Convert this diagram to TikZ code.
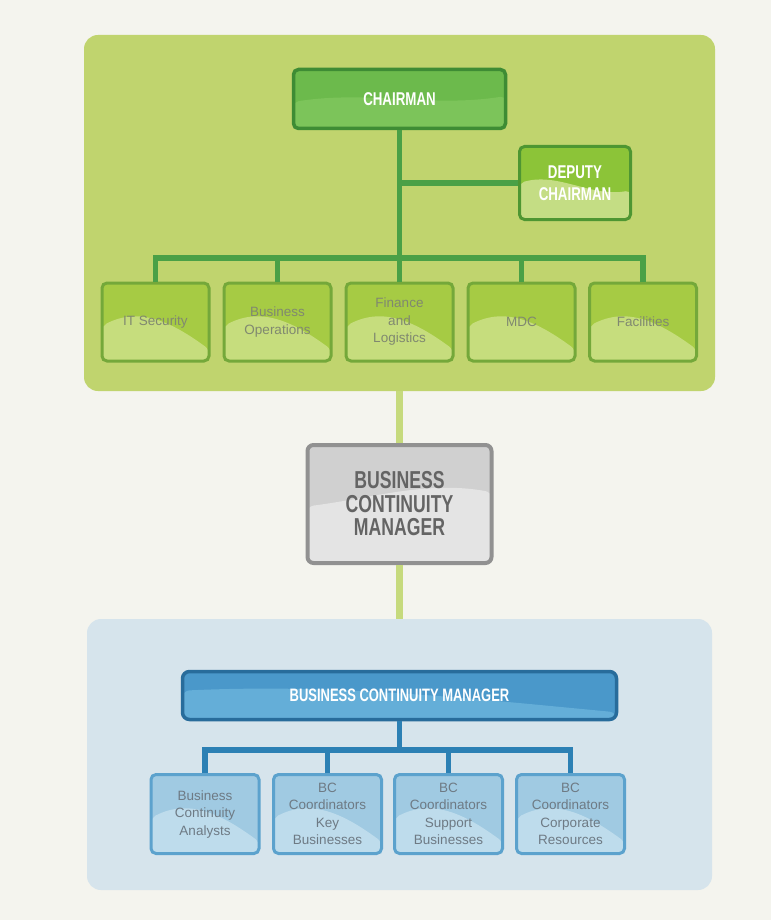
\documentclass[tikz,border=0pt]{standalone}
\usepackage{fontspec}
\setmainfont{Liberation Sans}
\newfontfamily\condbold[FakeStretch=0.72]{Liberation Sans}
\usetikzlibrary{calc}
\definecolor{bgc}{RGB}{244,244,238}
\definecolor{gpan}{RGB}{192,212,110}
\definecolor{gline}{RGB}{74,160,70}
\definecolor{lgline}{RGB}{198,218,125}
\definecolor{chfill}{RGB}{108,186,76}
\definecolor{chwave}{RGB}{124,196,90}
\definecolor{chdraw}{RGB}{62,140,52}
\definecolor{depfill}{RGB}{140,196,56}
\definecolor{depwave}{RGB}{196,221,132}
\definecolor{depdraw}{RGB}{78,150,50}
\definecolor{gcfill}{RGB}{166,203,68}
\definecolor{gcwave}{RGB}{198,221,125}
\definecolor{gcdraw}{RGB}{116,168,58}
\definecolor{gctext}{RGB}{128,136,112}
\definecolor{grfill}{RGB}{208,208,208}
\definecolor{grwave}{RGB}{228,228,228}
\definecolor{grdraw}{RGB}{145,145,145}
\definecolor{grtext}{RGB}{100,100,100}
\definecolor{bpan}{RGB}{214,228,236}
\definecolor{bline}{RGB}{44,128,180}
\definecolor{bmfill}{RGB}{74,152,202}
\definecolor{bmwave}{RGB}{100,174,216}
\definecolor{bmdraw}{RGB}{40,108,155}
\definecolor{bcfill}{RGB}{160,202,226}
\definecolor{bcwave}{RGB}{190,220,236}
\definecolor{bcdraw}{RGB}{92,162,205}
\definecolor{bctext}{RGB}{110,122,132}
\tikzset{
  wave/.style n args={5}{path picture={%
    \coordinate (wNW) at (path picture bounding box.north west);
    \coordinate (wNE) at (path picture bounding box.north east);
    \coordinate (wSW) at (path picture bounding box.south west);
    \coordinate (wSE) at (path picture bounding box.south east);
    \coordinate (wvh) at ($(wSW)-(wNW)$);
    \fill[#1] ($(wNW)+#2*(wvh)$)
      .. controls ($(wNW)!0.35!(wNE)+#3*(wvh)$) and ($(wNW)!0.65!(wNE)+#4*(wvh)$)
      .. ($(wNE)+#5*(wvh)$) -- (wSE) -- (wSW) -- cycle;
    }},
  panel/.style={rounded corners=14pt, draw=none, inner sep=0pt, outer sep=0pt},
  box/.style={rounded corners=5pt, line width=3pt, align=center, inner sep=0pt},
  chairbox/.style={box, draw=chdraw, fill=chfill, line width=3.5pt,
    wave={chwave}{0.55}{0.35}{0.65}{0.45},
    minimum width=212pt, minimum height=59pt, text=white,
    font=\condbold\bfseries\fontsize{18.5}{22}\selectfont},
  depbox/.style={box, draw=depdraw, fill=depfill,
    wave={depwave}{0.5}{0.35}{0.7}{0.6},
    minimum width=111pt, minimum height=73pt, text=white,
    font=\condbold\bfseries\fontsize{18.5}{22}\selectfont},
  gchild/.style={box, draw=gcdraw, fill=gcfill,
    wave={gcwave}{0.55}{0.3}{0.5}{0.85},
    minimum width=107pt, minimum height=78pt, text=gctext,
    font=\fontsize{13.5}{17.5}\selectfont},
  graybox/.style={box, draw=grdraw, fill=grfill, line width=4pt, rounded corners=6pt,
    wave={grwave}{0.52}{0.45}{0.3}{0.4},
    minimum width=184pt, minimum height=118pt, text=grtext,
    font=\condbold\bfseries\fontsize{24.5}{23.5}\selectfont},
  bmbox/.style={box, draw=bmdraw, fill=bmfill, line width=3.5pt, rounded corners=7pt,
    wave={bmwave}{0.4}{0.25}{0.55}{0.85},
    minimum width=434pt, minimum height=48pt, text=white,
    font=\condbold\bfseries\fontsize{18}{22}\selectfont},
  bchild/.style={box, draw=bcdraw, fill=bcfill,
    wave={bcwave}{0.55}{0.3}{0.5}{0.85},
    minimum width=108pt, minimum height=79pt, text=bctext,
    font=\fontsize{13.5}{17.5}\selectfont},
  gconn/.style={draw=gline, line width=5.5pt, line join=miter},
  bconn/.style={draw=bline, line width=5.5pt, line join=miter},
  lgconn/.style={draw=lgline, line width=7pt}
}
\begin{document}
\begin{tikzpicture}[x=1pt,y=-1pt]
\useasboundingbox (0,0) rectangle (771,920);
\fill[bgc] (0,0) rectangle (771,920);
% panels
\node[panel, fill=gpan, minimum width=631pt, minimum height=356pt] (gpanel) at (399.5,213) {};
\node[panel, fill=bpan, minimum width=625pt, minimum height=271pt] (bpanel) at (399.5,754.5) {};
% green part
\node[chairbox] (chair) at (399.5,99) {CHAIRMAN};
\node[depbox] (dep) at (575,183) {DEPUTY\\CHAIRMAN};
\node[gchild] (it)  at (155.5,322) {IT Security};
\node[gchild] (bo)  at (277.5,322) {Business\\Operations};
\node[gchild] (fin) at (399.5,322) {Finance\\and\\Logistics};
\node[gchild] (mdc) at (521.5,322) {MDC};
\node[gchild] (fac) at (643,322) {Facilities};
% middle
\node[graybox] (bcmg) at (399.5,504) {BUSINESS\\CONTINUITY\\MANAGER};
% blue part
\node[bmbox] (bcm) at (399.5,695.5) {BUSINESS CONTINUITY MANAGER};
\node[bchild] (c1) at (205,814) {Business\\Continuity\\Analysts};
\node[bchild] (c2) at (327.5,814) {BC\\Coordinators\\Key\\Businesses};
\node[bchild] (c3) at (448.5,814) {BC\\Coordinators\\Support\\Businesses};
\node[bchild] (c4) at (570.5,814) {BC\\Coordinators\\Corporate\\Resources};
% connectors green
\coordinate (gbus) at (399.5,258);
\draw[gconn] (chair.south) -- (fin.north);
\draw[gconn] (dep.west) -- (dep.west -| chair.south);
\draw[gconn] (it.north) |- (gbus) -| (fac.north);
\draw[gconn] (bo.north) -- (bo.north |- gbus);
\draw[gconn] (mdc.north) -- (mdc.north |- gbus);
% light green links
\draw[lgconn] (gpanel.south) -- (bcmg.north);
\draw[lgconn] (bcmg.south) -- (bpanel.north);
% connectors blue
\coordinate (bbus) at (399.5,750);
\draw[bconn] (bcm.south) -- (bbus);
\draw[bconn] (c1.north) |- (bbus) -| (c4.north);
\draw[bconn] (c2.north) -- (c2.north |- bbus);
\draw[bconn] (c3.north) -- (c3.north |- bbus);
\end{tikzpicture}
\end{document}
